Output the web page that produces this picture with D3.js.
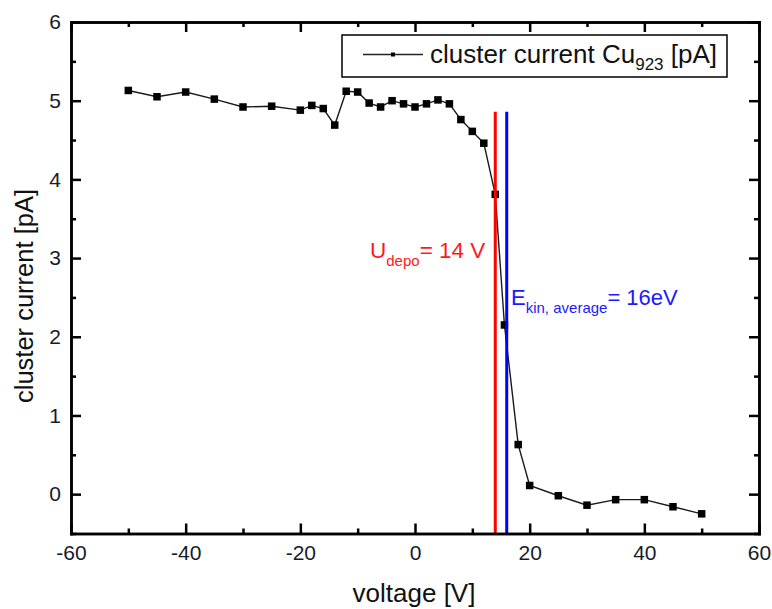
<!DOCTYPE html>
<html>
<head>
<meta charset="utf-8">
<script src="https://cdn.jsdelivr.net/npm/d3@7"></script>
<style>
  body { margin: 0; background: #fff; }
  svg { display: block; font-family: "Liberation Sans", Arial, sans-serif; }
</style>
</head>
<body>
<div id="chart"></div>
<script>
// measured data: cluster current vs. retarding voltage
var voltage = [-50, -45, -40, -35, -30, -25, -20, -18, -16, -14, -12, -10, -8, -6, -4, -2, 0, 2, 4, 6, 8, 10, 12, 14, 15.6, 18, 20, 25, 30, 35, 40, 45, 50]
var current = [5.13, 5.05, 5.11, 5.02, 4.92, 4.93, 4.88, 4.94, 4.90, 4.69, 5.12, 5.11, 4.97, 4.92, 5.00, 4.96, 4.92, 4.96, 5.01, 4.96, 4.76, 4.61, 4.46, 3.81, 2.15, 0.63, 0.11, -0.02, -0.14, -0.07, -0.07, -0.16, -0.25]

var xTicks = [-60, -40, -20, 0, 20, 40, 60]
var xMinor = [-50, -30, -10, 10, 30, 50]
var yTicks = [0, 1, 2, 3, 4, 5, 6]
var yMinor = [-0.5, 0.5, 1.5, 2.5, 3.5, 4.5, 5.5]

var uDepo = 14      // red line
var eKin = 16       // blue line
var lineTop = 4.86

var W = 772, H = 609
var mLeft = 71, mTop = 22, mRight = 759, mBottom = 533.5

var svg = d3.select("#chart").append("svg")
  .attr("width", W).attr("height", H)

var x = d3.scaleLinear().domain([-60, 60]).range([mLeft, mRight])
var y = d3.scaleLinear().domain([-0.5, 6]).range([mBottom, mTop])

// data line + markers
var line = d3.line().x(function(d, i){ return x(voltage[i]) }).y(function(d){ return y(d) })
svg.append("path")
  .datum(current)
  .attr("fill", "none")
  .attr("stroke", "#1a1a1a")
  .attr("stroke-width", 1.4)
  .attr("d", line)

svg.append("g").selectAll("rect")
  .data(current)
  .enter().append("rect")
  .attr("x", function(d, i){ return x(voltage[i]) - 3.75 })
  .attr("y", function(d){ return y(d) - 3.75 })
  .attr("width", 7.5).attr("height", 7.5)
  .attr("fill", "#000")

// vertical marker lines
svg.append("line")
  .attr("x1", x(uDepo)).attr("x2", x(uDepo))
  .attr("y1", y(lineTop)).attr("y2", mBottom)
  .attr("stroke", "#ff0000").attr("stroke-width", 3)
svg.append("line")
  .attr("x1", x(eKin)).attr("x2", x(eKin))
  .attr("y1", y(lineTop)).attr("y2", mBottom)
  .attr("stroke", "#0000ff").attr("stroke-width", 3)

// axes, ticks pointing inward
function styleAxis(g){
  g.attr("font-size", null).attr("font-family", null)
  g.select(".domain").attr("stroke", "#000").attr("stroke-width", 2.5)
  g.selectAll(".tick line").attr("stroke", "#000").attr("stroke-width", 2.5)
  g.selectAll(".tick text").attr("fill", "#161b2b").style("font-size", "21px")
}
var fmt = function(d){ return String(d) }

svg.append("g")
  .attr("transform", "translate(0," + mBottom + ")")
  .call(d3.axisBottom(x).tickValues(xTicks).tickSize(-10).tickPadding(12).tickFormat(fmt).tickSizeOuter(0))
  .call(styleAxis)
svg.append("g")
  .attr("transform", "translate(0," + mBottom + ")")
  .call(d3.axisBottom(x).tickValues(xMinor).tickSize(-5).tickFormat("").tickSizeOuter(0))
  .call(styleAxis)
svg.append("g")
  .attr("transform", "translate(0," + mTop + ")")
  .call(d3.axisTop(x).tickValues(xTicks).tickSize(-10).tickFormat("").tickSizeOuter(0))
  .call(styleAxis)
svg.append("g")
  .attr("transform", "translate(0," + mTop + ")")
  .call(d3.axisTop(x).tickValues(xMinor).tickSize(-5).tickFormat("").tickSizeOuter(0))
  .call(styleAxis)

svg.append("g")
  .attr("transform", "translate(" + mLeft + ",0)")
  .call(d3.axisLeft(y).tickValues(yTicks).tickSize(-10).tickPadding(10).tickFormat(fmt).tickSizeOuter(0))
  .call(styleAxis)
svg.append("g")
  .attr("transform", "translate(" + mLeft + ",0)")
  .call(d3.axisLeft(y).tickValues(yMinor).tickSize(-5).tickFormat("").tickSizeOuter(0))
  .call(styleAxis)
svg.append("g")
  .attr("transform", "translate(" + mRight + ",0)")
  .call(d3.axisRight(y).tickValues(yTicks).tickSize(-10).tickFormat("").tickSizeOuter(0))
  .call(styleAxis)
svg.append("g")
  .attr("transform", "translate(" + mRight + ",0)")
  .call(d3.axisRight(y).tickValues(yMinor).tickSize(-5).tickFormat("").tickSizeOuter(0))
  .call(styleAxis)

svg.selectAll(".domain").attr("stroke-linecap", "square")

// axis titles
svg.append("text")
  .attr("x", (mLeft + mRight) / 2 - 1).attr("y", 602)
  .attr("text-anchor", "middle")
  .style("font-size", "26px").attr("fill", "#111")
  .text("voltage [V]")
svg.append("text")
  .attr("transform", "translate(33,296) rotate(-90)")
  .attr("text-anchor", "middle")
  .style("font-size", "25.5px").attr("fill", "#111")
  .text("cluster current [pA]")

// legend
svg.append("rect")
  .attr("x", 342).attr("y", 35).attr("width", 385).attr("height", 42)
  .attr("fill", "#fff").attr("stroke", "#000").attr("stroke-width", 1.5)
svg.append("line")
  .attr("x1", 363).attr("x2", 423).attr("y1", 54.5).attr("y2", 54.5)
  .attr("stroke", "#222").attr("stroke-width", 1.5)
svg.append("rect")
  .attr("x", 391).attr("y", 52.5).attr("width", 4).attr("height", 4).attr("fill", "#000")
var lg = svg.append("text").attr("x", 430).attr("y", 63)
  .style("font-size", "26px").attr("fill", "#111")
lg.append("tspan").text("cluster current Cu")
lg.append("tspan").attr("dy", 7).style("font-size", "17px").text("923")
lg.append("tspan").attr("dy", -7).text(" [pA]")

// annotations
var ua = svg.append("text").attr("x", 370).attr("y", 258)
  .style("font-size", "22.5px").attr("fill", "#ff1a1a")
ua.append("tspan").text("U")
ua.append("tspan").attr("dy", 8).style("font-size", "15px").text("depo")
ua.append("tspan").attr("dy", -8).text("= 14 V")

var ea = svg.append("text").attr("x", 511).attr("y", 305)
  .style("font-size", "22px").attr("fill", "#1a1aff")
ea.append("tspan").text("E")
ea.append("tspan").attr("dy", 8).style("font-size", "15px").text("kin, average")
ea.append("tspan").attr("dy", -8).text("= 16eV")
</script>
</body>
</html>
